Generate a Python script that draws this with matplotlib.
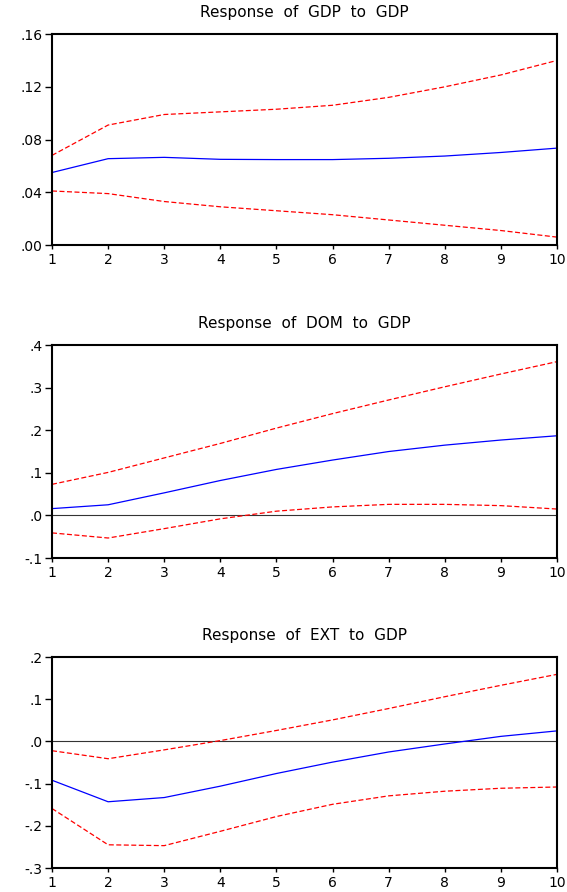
import matplotlib.pyplot as plt
import numpy as np

plt.rcParams['font.family'] = ['DejaVu Sans']

steps = np.arange(1, 11)

# Response of GDP to GDP
gdp_mid = [0.055, 0.0655, 0.0665, 0.065, 0.0648, 0.0648, 0.0658, 0.0675, 0.0702, 0.0735]
gdp_up = [0.068, 0.091, 0.099, 0.101, 0.103, 0.106, 0.112, 0.120, 0.129, 0.140]
gdp_lo = [0.041, 0.039, 0.033, 0.029, 0.026, 0.023, 0.019, 0.015, 0.011, 0.006]

# Response of DOM to GDP
dom_mid = [0.016, 0.025, 0.053, 0.082, 0.108, 0.130, 0.150, 0.165, 0.177, 0.187]
dom_up = [0.073, 0.101, 0.135, 0.169, 0.205, 0.239, 0.271, 0.302, 0.332, 0.361]
dom_lo = [-0.041, -0.053, -0.031, -0.008, 0.010, 0.020, 0.026, 0.026, 0.023, 0.015]

# Response of EXT to GDP
ext_mid = [-0.092, -0.143, -0.133, -0.106, -0.076, -0.049, -0.025, -0.006, 0.012, 0.025]
ext_up = [-0.022, -0.041, -0.020, 0.002, 0.026, 0.051, 0.078, 0.106, 0.133, 0.159]
ext_lo = [-0.159, -0.245, -0.247, -0.213, -0.178, -0.149, -0.129, -0.118, -0.111, -0.108]

titles = ['Response  of  GDP  to  GDP', 'Response  of  DOM  to  GDP', 'Response  of  EXT  to  GDP']
yticks = [[0, 0.04, 0.08, 0.12, 0.16], [-0.1, 0, 0.1, 0.2, 0.3, 0.4], [-0.3, -0.2, -0.1, 0, 0.1, 0.2]]
ylabels = [['.00', '.04', '.08', '.12', '.16'],
           ['-.1', '.0', '.1', '.2', '.3', '.4'],
           ['-.3', '-.2', '-.1', '.0', '.1', '.2']]
zero_line = [False, True, True]
series = [(gdp_mid, gdp_up, gdp_lo), (dom_mid, dom_up, dom_lo), (ext_mid, ext_up, ext_lo)]

fig = plt.figure(figsize=(5.67, 8.92), dpi=100)
boxes = [[0.0917, 0.7253, 0.8907, 0.2365],
         [0.0917, 0.3744, 0.8907, 0.2388],
         [0.0917, 0.0269, 0.8907, 0.2365]]

for i in range(3):
    ax = fig.add_axes(boxes[i])
    mid, up, lo = series[i]
    if zero_line[i]:
        ax.axhline(0, color='#333333', linewidth=0.8)
    ax.plot(steps, up, color='red', linewidth=0.9, dashes=(4, 2))
    ax.plot(steps, lo, color='red', linewidth=0.9, dashes=(4, 2))
    ax.plot(steps, mid, color='blue', linewidth=0.9)
    ax.set_xlim(1, 10)
    ax.set_ylim(yticks[i][0], yticks[i][-1])
    ax.set_xticks(steps)
    ax.set_xticklabels([str(s) for s in steps])
    ax.set_yticks(yticks[i])
    ax.set_yticklabels(ylabels[i])
    ax.tick_params(direction='out', length=3, width=1, labelsize=10)
    ax.tick_params(axis='x', pad=3)
    ax.tick_params(axis='y', length=5, pad=2)
    for sp in ax.spines.values():
        sp.set_linewidth(1.5)
    ax.set_title(titles[i], fontsize=11, pad=12)

fig.savefig('out.png', dpi=100)
